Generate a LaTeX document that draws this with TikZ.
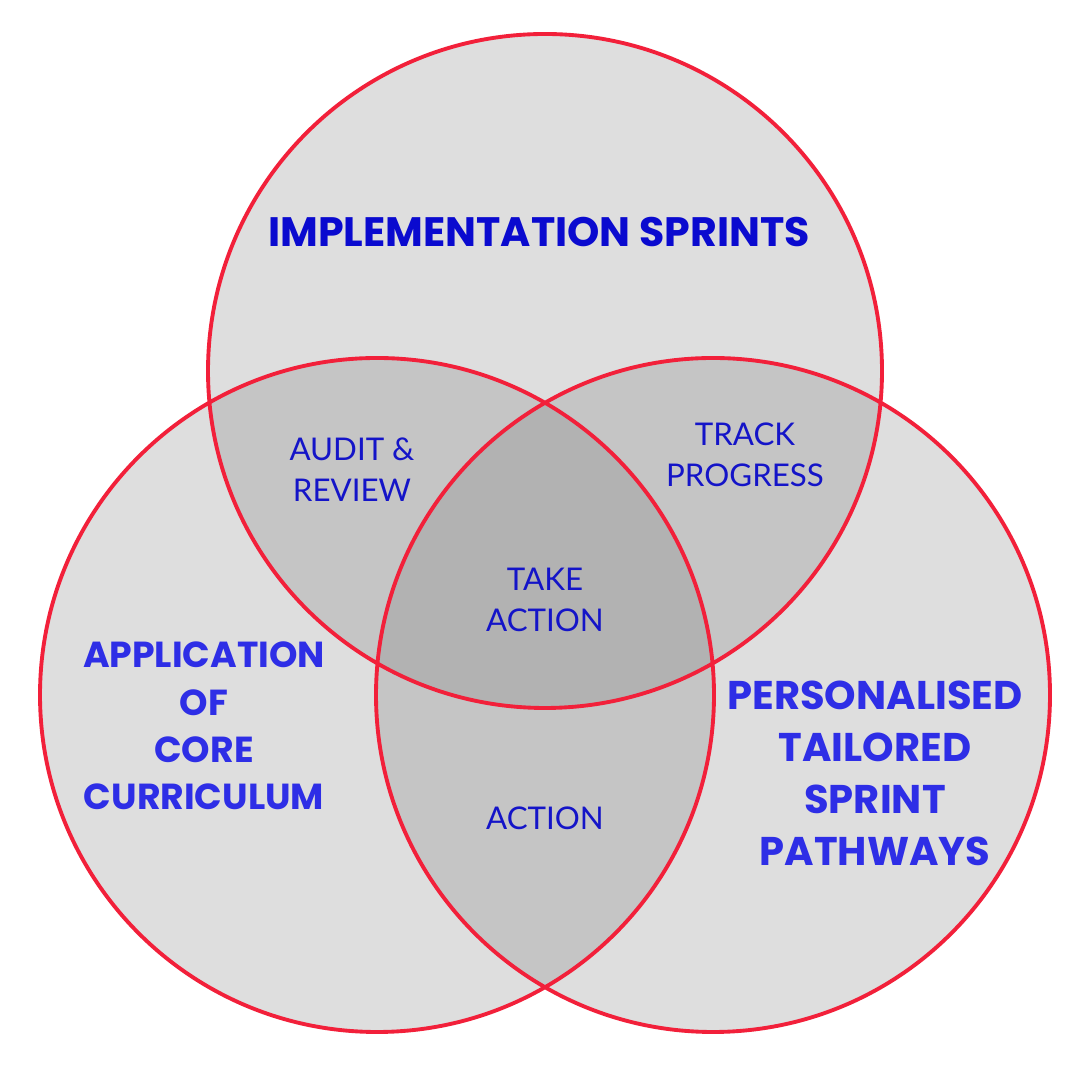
\documentclass[tikz,border=0pt]{standalone}
\usepackage{fontspec}
\setmainfont{Poppins}
\newfontfamily\lightfont{Lato}
\usetikzlibrary{positioning}

\definecolor{ringred}{HTML}{F2203A}
\definecolor{softgray}{HTML}{DEDEDE}
\definecolor{midgray}{HTML}{C5C5C5}
\definecolor{deepgray}{HTML}{B2B2B2}
\definecolor{titleblue}{HTML}{0A0ACF}
\definecolor{sideblue}{HTML}{2E2EE6}
\definecolor{smallblue}{HTML}{1414C8}

\begin{document}
\begin{tikzpicture}[
big/.style = {font=\fontsize{11.7}{14}\selectfont\bfseries, text=titleblue, align=center},
side/.style = {font=\fontsize{10.3}{13.5}\selectfont\bfseries, text=sideblue, align=center},
sidewide/.style = {font=\fontsize{11.4}{14.8}\selectfont\bfseries, text=sideblue, align=center},
small/.style = {font=\lightfont\fontsize{8.9}{11.7}\selectfont, text=smallblue, align=center},
ring/.style = {draw=ringred, line width=1.1pt}]
\fill[white] (0,0) rectangle (10.8,10.8);
\useasboundingbox (0,0) rectangle (10.8,10.8);
% circle centres
\coordinate (top) at (5.45,7.09);
\coordinate (lft) at (3.77,3.85);
\coordinate (rgt) at (7.13,3.85);
\def\rad{3.37}
% fills
\fill[softgray] (top) circle (\rad) (lft) circle (\rad) (rgt) circle (\rad);
\begin{scope}
	\clip (top) circle (\rad);
	\fill[midgray] (lft) circle (\rad) (rgt) circle (\rad);
\end{scope}
\begin{scope}
	\clip (lft) circle (\rad);
	\fill[midgray] (rgt) circle (\rad);
\end{scope}
\begin{scope}
	\clip (top) circle (\rad);
	\clip (lft) circle (\rad);
	\fill[deepgray] (rgt) circle (\rad);
\end{scope}
% outlines
\draw[ring] (top) circle (\rad) (lft) circle (\rad) (rgt) circle (\rad);
% labels
\node[big] (sprints) at (5.39,8.48) {IMPLEMENTATION SPRINTS};
\node[side] (core) at (2.04,3.54) {APPLICATION\\OF\\CORE\\CURRICULUM};
\node[sidewide] (paths) at (8.75,3.07) {PERSONALISED\\TAILORED\\SPRINT\\PATHWAYS};
\node[small] (audit) at (3.52,6.1) {AUDIT \&\\REVIEW};
\node[small] (track) at (7.45,6.25) {TRACK\\PROGRESS};
\node[small] (take) at (5.45,4.8) {TAKE\\ACTION};
\node[small] (act) at (5.45,2.62) {ACTION};
\end{tikzpicture}
\end{document}
